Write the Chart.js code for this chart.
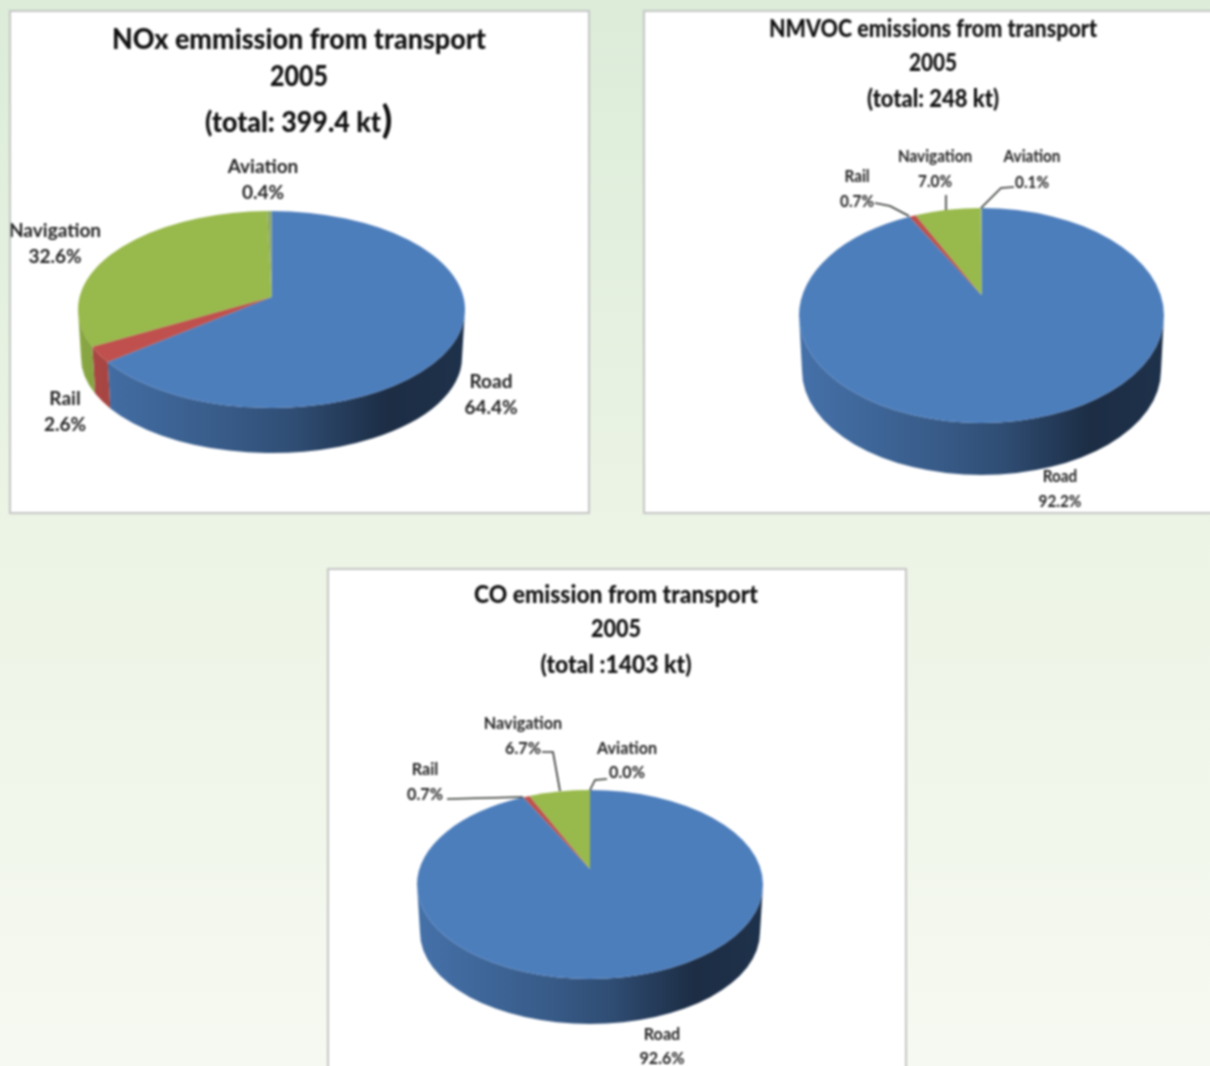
<!DOCTYPE html>
<html>
<head>
<meta charset="utf-8">
<title>Transport emissions 2005</title>
<script src="https://cdn.jsdelivr.net/npm/chart.js@4/dist/chart.umd.min.js"></script>
<style>
  html, body { margin: 0; padding: 0; width: 1210px; height: 1066px; overflow: hidden; }
  body { background: linear-gradient(180deg, #dcecd9 0%, #ecf4e5 50%, #f6f9f1 100%); }
  canvas { position: absolute; background: #fff; outline: 2px solid #c4c6c4; filter: blur(0.8px); }
</style>
</head>
<body>
<canvas id="nox"></canvas>
<canvas id="nmvoc"></canvas>
<canvas id="co"></canvas>
<script>
const categories = ["Road", "Rail", "Navigation", "Aviation"];
const noxValues = [64.4, 2.6, 32.6, 0.4];
const nmvocValues = [92.2, 0.7, 7.0, 0.1];
const coValues = [92.6, 0.7, 6.7, 0.0];
const sliceColors = ["#4d7ebc", "#c0504d", "#98b94b", "#8aa86a"];

// all layout numbers below are page pixels, the plugin shifts them into the canvas
const noxLayout = {
  box: { left: 11, top: 12, width: 577, height: 500 },
  pie: { cx: 271.5, cy: 309.5, rx: 193.5, ry: 98.5, apexY: 297, bottom: 453 },
  titles: [
    { text: "NOx emmission from transport", x: 299, y: 40, size: 28, fit: 374 },
    { text: "2005", x: 299, y: 77, size: 28, fit: 58 },
    { text: "(total: 399.4 kt", x: 293, y: 123, size: 28, fit: 176 },
    { text: ")", x: 387, y: 121, size: 38 }
  ],
  labelSize: 19,
  labelFit: 1,
  labels: [[491, 382, 408], [65, 399, 425], [55, 231, 257], [263, 167, 193]],
  leaders: []
};
const nmvocLayout = {
  box: { left: 645, top: 12, width: 600, height: 500 },
  pie: { cx: 981.5, cy: 315.5, rx: 182.5, ry: 107.5, apexY: 295, bottom: 475 },
  titles: [
    { text: "NMVOC emissions from transport", x: 933, y: 29, size: 25, fit: 328 },
    { text: "2005", x: 933, y: 63, size: 25, fit: 48 },
    { text: "(total: 248 kt)", x: 933, y: 99, size: 25, fit: 132 }
  ],
  labelSize: 17,
  labelFit: 0.9,
  labels: [[1060, 477, 502], [857, 177, 202], [935, 157, 182], [1032, 157, 183]],
  leaders: [
    [[875, 203], [890, 206], [909, 216]],
    [[946, 195], [946, 210]],
    [[1014, 187], [1001, 188], [981, 208]]
  ]
};
const coLayout = {
  box: { left: 329, top: 570, width: 576, height: 520 },
  pie: { cx: 590, cy: 884.5, rx: 173, ry: 94.5, apexY: 869, bottom: 1024 },
  titles: [
    { text: "CO emission from transport", x: 616, y: 595, size: 25, fit: 284 },
    { text: "2005", x: 616, y: 629, size: 25, fit: 50 },
    { text: "(total :1403 kt)", x: 616, y: 665, size: 25, fit: 151 }
  ],
  labelSize: 17,
  labelFit: 0.95,
  labels: [[662, 1035, 1059], [425, 770, 795], [523, 724, 749], [627, 749, 773]],
  leaders: [
    [[447, 799], [523, 797]],
    [[542, 752], [553, 752], [560, 791]],
    [[607, 779], [595, 780], [590, 790]]
  ]
};

function shade(hex, f) {
  const n = parseInt(hex.slice(1), 16);
  const r = Math.round(((n >> 16) & 255) * f);
  const g = Math.round(((n >> 8) & 255) * f);
  const b = Math.round((n & 255) * f);
  return `rgb(${r},${g},${b})`;
}

// the library works out the slice angles, this only projects them onto a tilted disc
function tiltedPie(layout, values) {
  return {
    id: "tiltedPie" + layout.box.left,
    beforeDatasetDraw(chart) {
      const ctx = chart.ctx;
      const ox = layout.box.left;
      const oy = layout.box.top;
      const p = layout.pie;
      const cx = p.cx - ox;
      const cy = p.cy - oy;
      const apexY = p.apexY - oy;
      const k = (p.cy - p.apexY) / p.ry;
      const rxB = p.rx - 3;
      const ryB = p.ry - 3;
      const cyB = p.bottom - oy - ryB;

      // chart angle -> angle on the ellipse, with the pie centre moved up to the apex
      const rimAngle = (a) => {
        const t = a + Math.PI / 2;
        const d = 1 + k * Math.cos(t);
        const x = Math.sin(t) * Math.sqrt(1 - k * k) / d;
        const y = (Math.cos(t) + k) / d;
        let phi = Math.atan2(-y, x);
        if (phi < -Math.PI / 2) phi += Math.PI * 2;
        return phi;
      };

      const arcs = chart.getDatasetMeta(0).data.map((arc, i) => {
        const start = rimAngle(arc.startAngle);
        let end = rimAngle(arc.endAngle);
        if (end <= start) end += Math.PI * 2;
        return { start, end, color: sliceColors[i], empty: values[i] === 0 };
      });

      // side wall first
      const stops = [[0, 0.9], [0.35, 0.74], [0.55, 0.62], [0.8, 0.36], [1, 0.4]];
      arcs.forEach((s) => {
        const a = Math.max(s.start, 0);
        const b = Math.min(s.end, Math.PI);
        if (s.empty || b <= a) return;
        const grad = ctx.createLinearGradient(cx - p.rx, 0, cx + p.rx, 0);
        stops.forEach(([pos, f]) => grad.addColorStop(pos, shade(s.color, f)));
        ctx.beginPath();
        ctx.ellipse(cx, cy, p.rx, p.ry, 0, a, b);
        ctx.ellipse(cx, cyB, rxB, ryB, 0, b, a, true);
        ctx.closePath();
        ctx.fillStyle = grad;
        ctx.fill();
      });

      // then the top face
      arcs.forEach((s) => {
        if (s.empty) return;
        ctx.beginPath();
        ctx.moveTo(cx, apexY);
        ctx.ellipse(cx, cy, p.rx, p.ry, 0, s.start, s.end);
        ctx.closePath();
        ctx.fillStyle = s.color;
        ctx.fill();
      });
      return false;
    },
    afterDraw(chart) {
      const ctx = chart.ctx;
      const ox = layout.box.left;
      const oy = layout.box.top;

      ctx.save();
      ctx.strokeStyle = "#2f342f";
      ctx.lineWidth = 1.6;
      layout.leaders.forEach((line) => {
        ctx.beginPath();
        line.forEach(([x, y], i) => {
          if (i === 0) ctx.moveTo(x - ox, y - oy);
          else ctx.lineTo(x - ox, y - oy);
        });
        ctx.stroke();
      });

      ctx.fillStyle = "#111";
      ctx.textAlign = "center";
      ctx.textBaseline = "middle";
      layout.titles.forEach((t) => {
        ctx.font = `900 ${t.size}px Lato`;
        if (t.fit) ctx.fillText(t.text, t.x - ox, t.y - oy, t.fit);
        else ctx.fillText(t.text, t.x - ox, t.y - oy);
      });

      ctx.fillStyle = "#222";
      ctx.font = `700 ${layout.labelSize}px Lato`;
      categories.forEach((name, i) => {
        const [x, y1, y2] = layout.labels[i];
        const pct = values[i].toFixed(1) + "%";
        ctx.fillText(name, x - ox, y1 - oy, ctx.measureText(name).width * layout.labelFit);
        ctx.fillText(pct, x - ox, y2 - oy, ctx.measureText(pct).width * layout.labelFit);
      });
      ctx.restore();
    }
  };
}

function makePie(id, values, layout) {
  const canvas = document.getElementById(id);
  canvas.width = layout.box.width;
  canvas.height = layout.box.height;
  canvas.style.left = layout.box.left + "px";
  canvas.style.top = layout.box.top + "px";
  return new Chart(canvas, {
    type: "pie",
    data: {
      labels: categories,
      datasets: [{ data: values, backgroundColor: sliceColors, borderWidth: 0 }]
    },
    options: {
      responsive: false,
      animation: false,
      devicePixelRatio: 1,
      plugins: { legend: { display: false }, tooltip: { enabled: false } }
    },
    plugins: [tiltedPie(layout, values)]
  });
}

makePie("nox", noxValues, noxLayout);
makePie("nmvoc", nmvocValues, nmvocLayout);
makePie("co", coValues, coLayout);
</script>
</body>
</html>
